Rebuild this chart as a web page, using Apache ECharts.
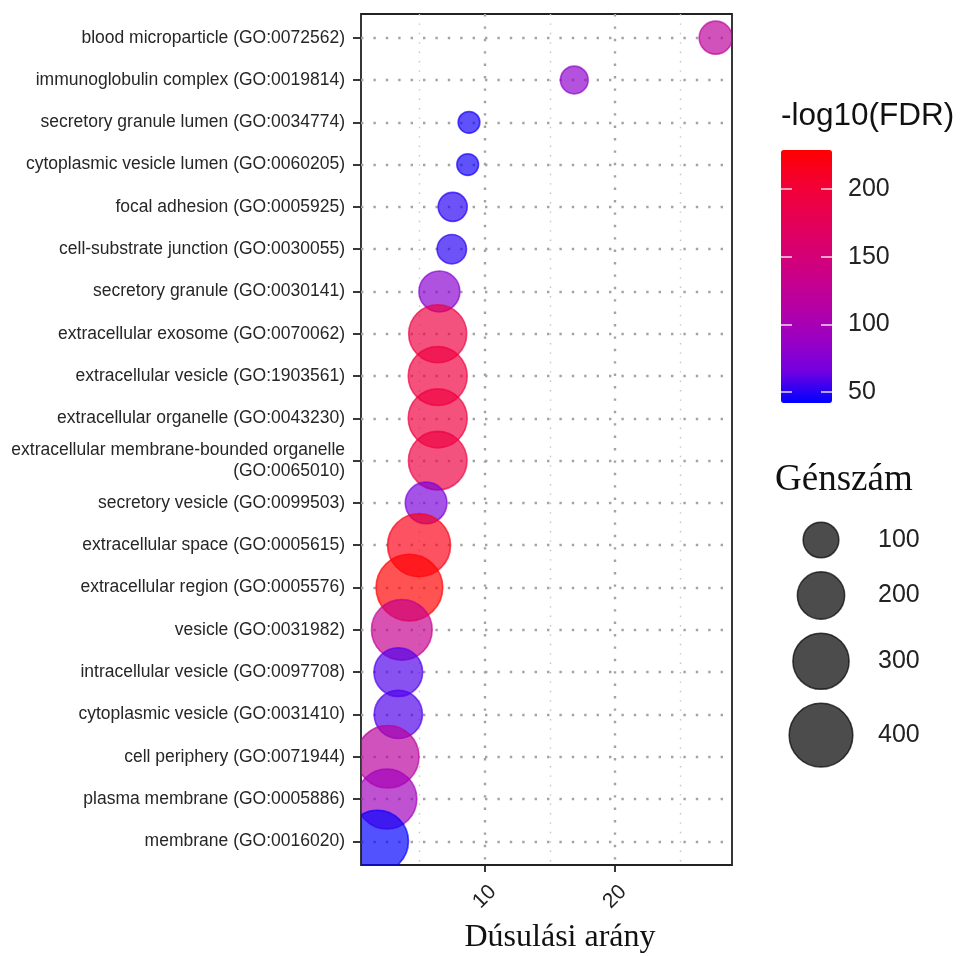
<!DOCTYPE html>
<html><head><meta charset="utf-8">
<script src="https://cdn.jsdelivr.net/npm/echarts@6/dist/echarts.min.js"></script>
<style>html,body{margin:0;padding:0;background:#fff}#c{width:962px;height:956px}</style>
</head><body><div id="c"></div>
<script>
const categories = [
  'blood microparticle (GO:0072562)',
  'immunoglobulin complex (GO:0019814)',
  'secretory granule lumen (GO:0034774)',
  'cytoplasmic vesicle lumen (GO:0060205)',
  'focal adhesion (GO:0005925)',
  'cell-substrate junction (GO:0030055)',
  'secretory granule (GO:0030141)',
  'extracellular exosome (GO:0070062)',
  'extracellular vesicle (GO:1903561)',
  'extracellular organelle (GO:0043230)',
  'extracellular membrane-bounded organelle\n(GO:0065010)',
  'secretory vesicle (GO:0099503)',
  'extracellular space (GO:0005615)',
  'extracellular region (GO:0005576)',
  'vesicle (GO:0031982)',
  'intracellular vesicle (GO:0097708)',
  'cytoplasmic vesicle (GO:0031410)',
  'cell periphery (GO:0071944)',
  'plasma membrane (GO:0005886)',
  'membrane (GO:0016020)'
];
const enrichment = [27.72, 16.88, 8.81, 8.71, 7.56, 7.49, 6.54, 6.41, 6.41, 6.41, 6.41, 5.52, 4.98, 4.24, 3.66, 3.39, 3.39, 2.58, 2.51, 1.79];
const geneCount = [82, 51, 25, 25, 58, 60, 141, 323, 335, 335, 330, 147, 390, 444, 358, 214, 210, 384, 349, 376];
const negLog10FDR = [120, 82, 46, 46, 50, 50, 78, 192, 195, 195, 192, 70, 218, 229, 130, 58, 58, 118, 95, 42];

const xTickValues = [10, 20];
const xMajorGrid = [10, 20];
const xMinorGrid = [5, 15, 25];
const colorbarTicks = [50, 100, 150, 200];
const sizeLegendValues = [100, 200, 300, 400];

const SANS = "'Liberation Sans', Arial, sans-serif";
const SERIF = "'Liberation Serif', 'Times New Roman', serif";
const sizeFn = n => 7.7 + 2.8 * Math.sqrt(n);
const labColors = ['#0000FF','#7300E0','#9A00C3','#B500A5','#CA0089','#DA006C','#E8004F','#F40031','#FF0000'];

const rowIdx = categories.map((_, i) => i);
const bubbleData = categories.map((c, i) => [enrichment[i], i, geneCount[i], negLog10FDR[i]]);

const majorDot = { color: '#a3a3a3', width: 2.4, type: [2.4, 10] };
const gridMarks = [];
rowIdx.forEach(i => gridMarks.push({ yAxis: i, lineStyle: majorDot }));
xMajorGrid.forEach(v => gridMarks.push({ xAxis: v, lineStyle: majorDot }));
xMinorGrid.forEach(v => gridMarks.push({ xAxis: v, lineStyle: { color: '#c4c4c4', width: 1.4, type: [1.4, 8] } }));

// size legend (keys stacked by their own size)
const legendGraphics = [];
let cy = 540;
sizeLegendValues.forEach((v, i) => {
  const d = sizeFn(v);
  if (i > 0) cy += (sizeFn(sizeLegendValues[i - 1]) + d) / 2 + 14;
  legendGraphics.push({ type: 'circle', shape: { cx: 821, cy: cy, r: d / 2 },
    style: { fill: '#000', stroke: '#000', lineWidth: 1.5, opacity: 0.7 } });
  legendGraphics.push({ type: 'text', x: 878, y: cy,
    style: { text: String(v), fontFamily: SANS, fontSize: 25, fill: '#222', align: 'left', verticalAlign: 'middle' } });
});

const cbTick = { show: true, inside: true, length: 11, customValues: colorbarTicks, lineStyle: { color: '#fff', width: 1.5, opacity: 0.85 } };

const chart = echarts.init(document.getElementById('c'), null, { renderer: 'canvas' });
chart.setOption({
  animation: false,
  backgroundColor: '#fff',
  grid: [
    { left: 361, top: 14, width: 371, height: 851, show: true, borderColor: '#222', borderWidth: 1.8, backgroundColor: 'transparent' },
    { left: 781, top: 150, width: 51, height: 253, show: false }
  ],
  xAxis: [
    { type: 'value', gridIndex: 0, position: 'bottom', min: 0.53, max: 28.97,
      axisLine: { show: false, onZero: false },
      axisTick: { show: true, length: 7, customValues: xTickValues, lineStyle: { color: '#222', width: 1.8 } },
      axisLabel: { customValues: xTickValues, rotate: 45, align: 'center', verticalAlign: 'middle', margin: 32,
        fontFamily: SANS, fontSize: 21, color: '#222' },
      splitLine: { show: false }, z: 10 },
    { type: 'value', gridIndex: 1, show: false, min: 0, max: 1 }
  ],
  yAxis: [
    { type: 'value', gridIndex: 0, position: 'left', inverse: true, min: -0.56, max: 19.56,
      axisLine: { show: false, onZero: false },
      axisTick: { show: true, length: 8, customValues: rowIdx, lineStyle: { color: '#222', width: 1.8 } },
      axisLabel: { customValues: rowIdx, formatter: v => categories[Math.round(v)], margin: 16,
        fontFamily: SANS, fontSize: 17.5, color: '#262626', lineHeight: 21, align: 'right' },
      splitLine: { show: false }, z: 10 },
    { type: 'value', gridIndex: 1, position: 'left', min: 41.8, max: 229,
      axisLine: { show: false, onZero: false },
      axisTick: cbTick,
      axisLabel: { show: false },
      splitLine: { show: false }, z: 10 },
    { type: 'value', gridIndex: 1, position: 'right', min: 41.8, max: 229,
      axisLine: { show: false, onZero: false },
      axisTick: cbTick,
      axisLabel: { customValues: colorbarTicks, margin: 16, fontFamily: SANS, fontSize: 25, color: '#222' },
      splitLine: { show: false }, z: 10 }
  ],
  visualMap: {
    type: 'continuous', seriesIndex: 0, dimension: 3, min: 41.8, max: 229,
    calculable: false, orient: 'vertical', left: 781, top: 150, itemWidth: 51, itemHeight: 253,
    padding: 0, text: null, showLabel: false, z: 2,
    inRange: { color: labColors }
  },
  series: [
    { type: 'custom', xAxisIndex: 0, yAxisIndex: 0, clip: true, z: 3,
      data: bubbleData, encode: { x: 0, y: 1 },
      renderItem: (params, api) => {
        const p = api.coord([api.value(0), api.value(1)]);
        const r = sizeFn(api.value(2)) / 2;
        const col = api.visual('color');
        return { type: 'circle', shape: { cx: p[0], cy: p[1], r: r },
          style: { fill: col, stroke: col, lineWidth: 1.6, opacity: 0.68 } };
      } },
    { type: 'line', xAxisIndex: 0, yAxisIndex: 0, data: [], silent: true, z: 1,
      markLine: { silent: true, symbol: ['none', 'none'], label: { show: false }, z: 1, animation: false, data: gridMarks } }
  ],
  graphic: [
    { type: 'text', x: 781, y: 116.5, style: { text: '-log10(FDR)', fontFamily: SANS, fontSize: 31.5, fill: '#111', verticalAlign: 'middle' } },
    { type: 'text', x: 775, y: 480.5, style: { text: 'Génszám', fontFamily: SERIF, fontSize: 37, fill: '#111', verticalAlign: 'middle' } },
    { type: 'text', x: 560, y: 938, style: { text: 'Dúsulási arány', fontFamily: SERIF, fontSize: 32, fill: '#111', align: 'center', verticalAlign: 'middle' } }
  ].concat(legendGraphics)
});
</script>
</body></html>
